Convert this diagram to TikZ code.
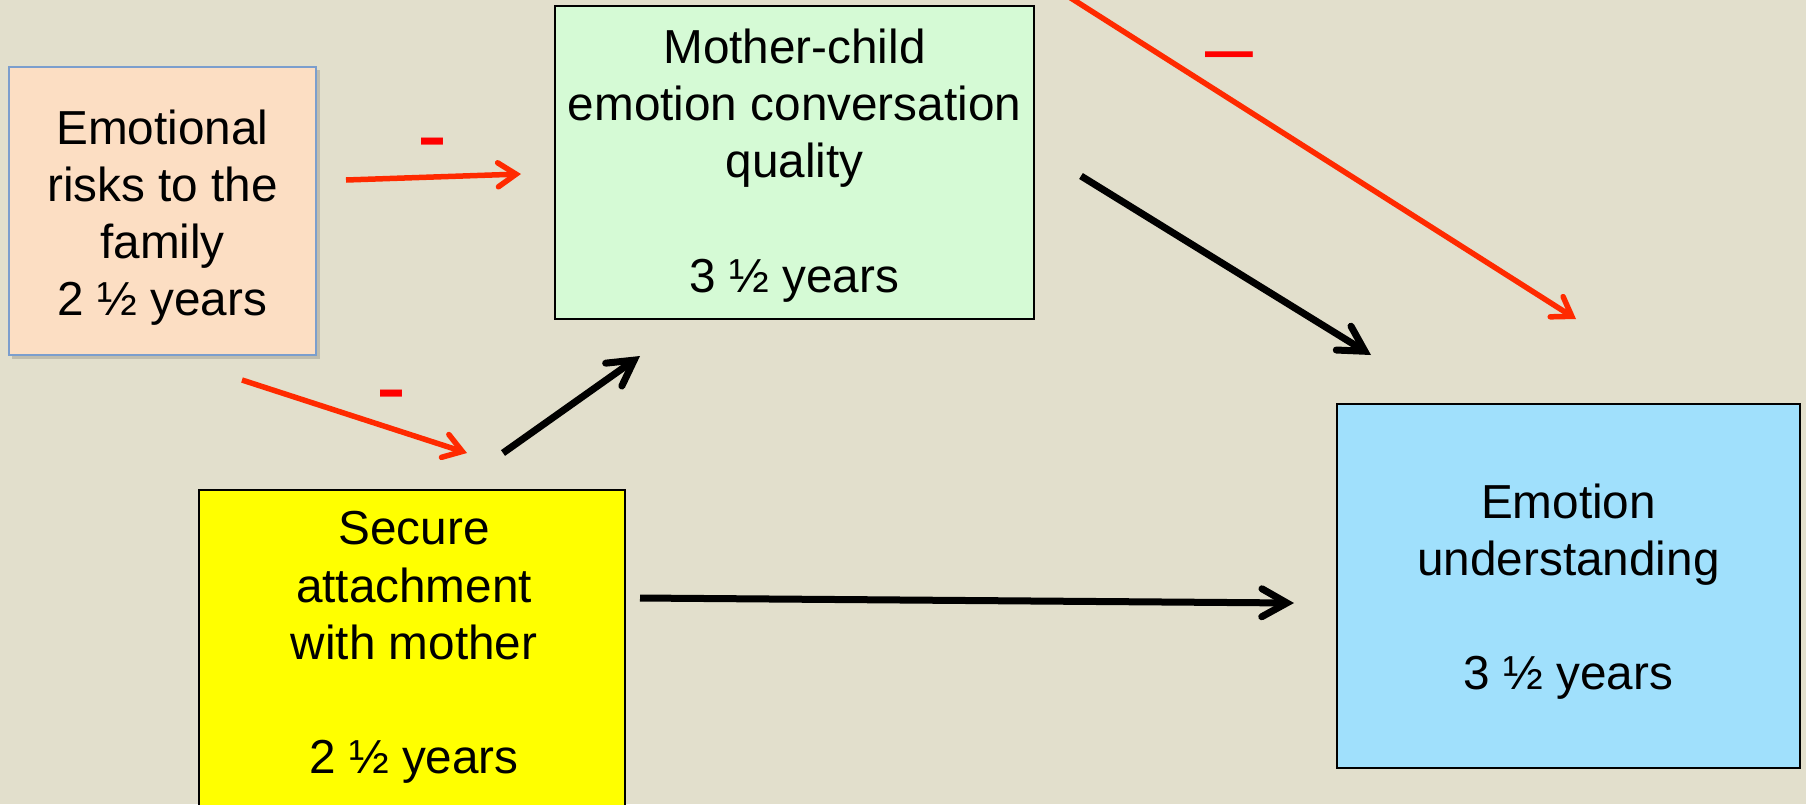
\documentclass[tikz,border=0pt]{standalone}
\usepackage{fontspec}
\setmainfont{Liberation Sans}
\usetikzlibrary{arrows.meta}
\definecolor{bg}{HTML}{E2DFCC}
\definecolor{riskfill}{HTML}{FCDEC3}
\definecolor{riskedge}{HTML}{7B9ECD}
\definecolor{convfill}{HTML}{D5FAD5}
\definecolor{underfill}{HTML}{A0E0FC}
\definecolor{securefill}{HTML}{FFFF00}
\definecolor{arrowred}{HTML}{FF2A00}
\definecolor{minusred}{HTML}{FF0000}
\tikzset{
  box/.style={draw=black, line width=2pt, inner sep=0pt, outer sep=0pt},
  boxtext/.style={anchor=north, align=center, inner sep=0pt, outer sep=0pt,
    font=\fontsize{47.7}{57.2}\selectfont},
  redarrow/.style={draw=arrowred, line width=5.5pt,
    -{Straight Barb[length=18pt, width=24pt, line cap=round, line join=miter]}},
  blackarrow/.style={draw=black, line width=7pt,
    -{Straight Barb[length=25pt, width=28pt, line cap=round, line join=miter]}},
  minus/.style={text=minusred, inner sep=0pt, outer sep=0pt, anchor=base}
}
\begin{document}
\begin{tikzpicture}[x=1pt, y=-1pt]
\fill[bg] (0,0) rectangle (1806,804);
\useasboundingbox (0,0) rectangle (1806,804);
\clip (0,0) rectangle (1806,804);

% boxes
\fill[black, opacity=0.15] (12,70) rectangle (320,359);
\node[box, draw=riskedge, fill=riskfill, minimum width=307pt, minimum height=288pt] (risk) at (162.5,211) {};
\node[box, fill=convfill, minimum width=479pt, minimum height=313pt] (conv) at (794.5,162.5) {};
\node[box, fill=underfill, minimum width=463pt, minimum height=364pt] (under) at (1568.5,586) {};
\node[box, fill=securefill, minimum width=426pt, minimum height=340pt] (secure) at (412,660) {};

% texts
\node[boxtext] (risktext) at (162.5,109.8) {Emotional\\risks to the\\family\\2 ½ years};
\node[boxtext] (convtext) at (794.5,28.8) {Mother-child\\emotion conversation\\quality\\[57.2pt]3 ½ years};
\node[boxtext] (undertext) at (1568.5,483.8) {Emotion\\understanding\\[57.2pt]3 ½ years};
\node[boxtext] (securetext) at (414,511.5) {Secure\\attachment\\with mother\\[57.2pt]2 ½ years};

% connector end points
\coordinate (a1s) at (346,180);  \coordinate (a1e) at (521,174);
\coordinate (a2s) at (242,380);  \coordinate (a2e) at (467,453);
\coordinate (a3s) at (503,453);  \coordinate (a3e) at (640,356);
\coordinate (a4s) at (1081,176); \coordinate (a4e) at (1371,355);
\coordinate (a5s) at (1022,-33); \coordinate (a5e) at (1576,319);
\coordinate (a6s) at (640,598);  \coordinate (a6e) at (1294,603);

\draw[redarrow] (a1s) -- (a1e);
\draw[redarrow] (a2s) -- (a2e);
\draw[blackarrow] (a3s) -- (a3e);
\draw[blackarrow] (a4s) -- (a4e);
\draw[redarrow] (a5s) -- (a5e);
\draw[blackarrow] (a6s) -- (a6e);

% minus labels
\node[minus, font=\fontsize{90}{90}\selectfont] (m1) at (432.5,165) {-};
\node[minus, font=\fontsize{90}{90}\selectfont] (m2) at (391,417) {-};
\node[minus, font=\fontsize{86}{86}\selectfont] (m3) at (1229,76) {\textendash};
\end{tikzpicture}
\end{document}
